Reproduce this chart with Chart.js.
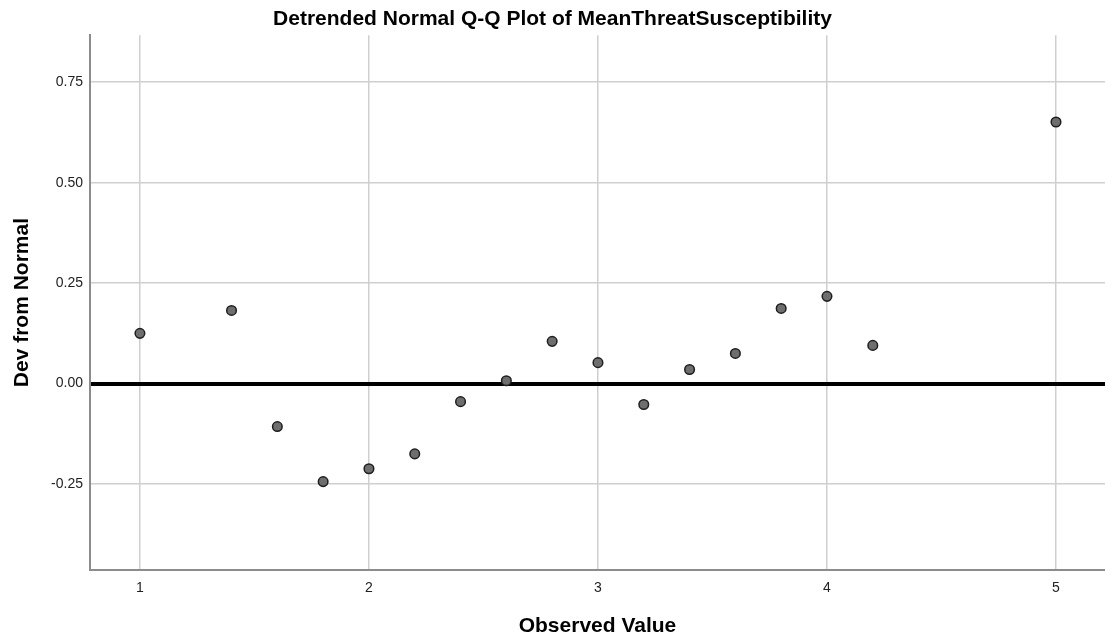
<!DOCTYPE html>
<html>
<head>
<meta charset="utf-8">
<script src="https://cdn.jsdelivr.net/npm/chart.js@4.4.1/dist/chart.umd.min.js"></script>
<style>
  html, body { margin: 0; padding: 0; background: #fff; overflow: hidden; }
  #wrap { width: 1105px; height: 643px; position: relative; }
  canvas { display: block; }
</style>
</head>
<body>
<div id="wrap"><canvas id="qq"></canvas></div>
<script>
const observed = [1, 1.4, 1.6, 1.8, 2, 2.2, 2.4, 2.6, 2.8, 3, 3.2, 3.4, 3.6, 3.8, 4, 4.2, 5];
const devFromNormal = [0.125, 0.182, -0.107, -0.244, -0.212, -0.175, -0.045, 0.007, 0.105, 0.052,
  -0.052, 0.035, 0.075, 0.187, 0.217, 0.095, 0.651];
const xTicks = [1, 2, 3, 4, 5];
const yTicks = [-0.25, 0, 0.25, 0.5, 0.75];

const fontFamily = "'Liberation Sans', Arial, sans-serif";
const gridGrey = "#cfcfcf";

const ctx = document.getElementById("qq").getContext("2d");

const chart = new Chart(ctx, {
  type: "scatter",
  data: {
    datasets: [
      {
        label: "Dev from Normal",
        data: observed.map((x, i) => ({ x: x, y: devFromNormal[i] })),
        pointRadius: 4.8,
        pointHoverRadius: 4.8,
        pointBackgroundColor: "#6e6e6e",
        pointBorderColor: "#1e1e1e",
        pointBorderWidth: 1.5,
      },
    ],
  },
  options: {
    animation: false,
    responsive: true,
    maintainAspectRatio: false,
    layout: { padding: 0, autoPadding: false },
    plugins: {
      legend: { display: false },
      tooltip: { enabled: false },
      title: {
        display: true,
        text: "Detrended Normal Q-Q Plot of MeanThreatSusceptibility",
        color: "#000",
        font: { family: fontFamily, size: 21, weight: "bold" },
        padding: { top: 7, bottom: 3 },
      },
    },
    scales: {
      x: {
        type: "linear",
        min: 0.782,
        max: 5.214,
        afterBuildTicks: (scale) => {
          scale.ticks = xTicks.map((v) => ({ value: v }));
        },
        afterFit: (scale) => {
          scale.height = 73;
          scale.paddingLeft = 0;
          scale.paddingRight = 0;
        },
        ticks: {
          padding: 10,
          color: "#222",
          font: { family: fontFamily, size: 14 },
          callback: (v) => String(v),
        },
        grid: { color: gridGrey, lineWidth: 1.5, drawTicks: false },
        border: { display: true, color: "#8c8c8c", width: 2 },
        title: {
          display: true,
          text: "Observed Value",
          color: "#000",
          font: { family: fontFamily, size: 21, weight: "bold" },
          padding: { top: 0, bottom: 4 },
        },
      },
      y: {
        type: "linear",
        min: -0.464,
        max: 0.867,
        afterBuildTicks: (scale) => {
          scale.ticks = yTicks.map((v) => ({ value: v }));
        },
        afterFit: (scale) => {
          scale.width = 90;
        },
        ticks: {
          padding: 7,
          color: "#222",
          font: { family: fontFamily, size: 14 },
          callback: (v) => Number(v).toFixed(2),
        },
        grid: {
          drawTicks: false,
          color: (c) => (c.tick && c.tick.value === 0 ? "#000" : gridGrey),
          lineWidth: (c) => (c.tick && c.tick.value === 0 ? 4 : 1.5),
        },
        border: { display: true, color: "#8c8c8c", width: 2 },
        title: {
          display: true,
          text: "Dev from Normal",
          color: "#000",
          font: { family: fontFamily, size: 21, weight: "bold" },
          padding: { top: 10, bottom: 0 },
        },
      },
    },
  },
});
</script>
</body>
</html>
